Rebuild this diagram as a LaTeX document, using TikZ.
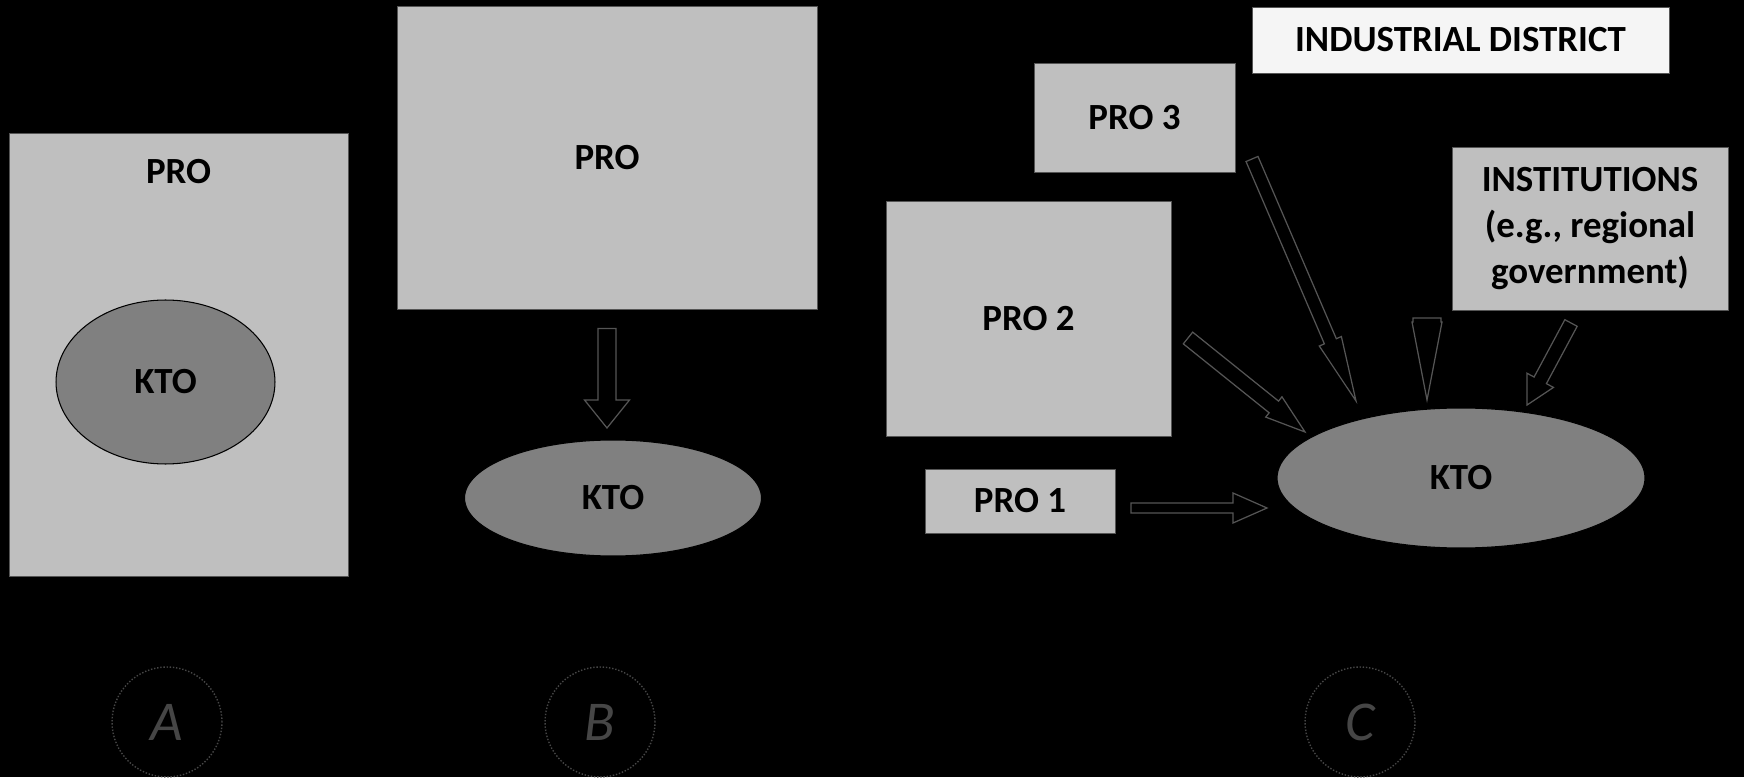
\documentclass[tikz,border=0pt]{standalone}
\usepackage{fontspec}
\setmainfont{Carlito}
\usepackage{tikz}
\usetikzlibrary{shapes.geometric, calc}
\definecolor{boxgrey}{RGB}{191,191,191}
\definecolor{ktogrey}{RGB}{128,128,128}
\definecolor{paper}{RGB}{245,245,245}
\definecolor{edgegrey}{RGB}{85,85,85}
\definecolor{faintgrey}{RGB}{70,70,70}
% hollow block arrow: tail, tip, half shaft, half head, head length (in px)
\newcommand{\hollowarr}[5]{%
  \coordinate (ht) at ($(#2)!#5*0.02cm!(#1)$);
  \draw[harr] ($(#1)!#3*0.02cm!90:(#2)$) -- ($(ht)!#3*0.02cm!90:(#2)$)
    -- ($(ht)!#4*0.02cm!90:(#2)$) -- (#2) -- ($(ht)!#4*0.02cm!-90:(#2)$)
    -- ($(ht)!#3*0.02cm!-90:(#2)$) -- ($(#1)!#3*0.02cm!-90:(#2)$) -- cycle;
}

\begin{document}
\begin{tikzpicture}[
    x=0.02cm, y=-0.02cm,
    probox/.style={rectangle, draw=edgegrey, line width=0.5pt, fill=boxgrey,
                   inner sep=0pt, align=center, font=\bfseries\fontsize{21}{26}\selectfont},
    lbl/.style={inner sep=0pt, font=\bfseries\fontsize{21}{26}\selectfont},
    kto/.style={ellipse, draw=black, line width=0.6pt, fill=ktogrey,
                inner sep=0pt, font=\bfseries\fontsize{21}{26}\selectfont},
    harr/.style={draw=edgegrey, line width=0.7pt, line join=miter},
    tag/.style={circle, draw=faintgrey, densely dotted, line width=0.8pt,
                minimum size=2.2cm, inner sep=0pt, text=faintgrey,
                font=\itshape\fontsize{32}{32}\selectfont},
]
    \fill[black] (0,0) rectangle (1744,777);

    % A: KTO inside PRO
    \node[probox, minimum width=6.78cm, minimum height=8.86cm] (proA) at (178.5,354.5) {};
    \node[lbl] (proAlbl) at ($(proA.north)+(0,39)$) {PRO};
    \node[kto, minimum width=4.38cm, minimum height=3.28cm] (ktoA) at (165.5,382) {KTO};

    % B: PRO spins off KTO
    \node[probox, minimum width=8.4cm, minimum height=6.06cm] (proB) at (607,157.5) {PRO};
    \node[kto, minimum width=5.94cm, minimum height=2.32cm] (ktoB) at (613,498) {KTO};
    \coordinate (bTail) at ($(proB.south)+(0,19)$);
    \coordinate (bTip) at (607,428);
    \hollowarr{bTail}{bTip}{9}{22.5}{28}

    % C: industrial district
    \node[probox, fill=paper, minimum width=8.34cm, minimum height=1.32cm] (district) at (1460.5,40) {INDUSTRIAL DISTRICT};
    \node[probox, minimum width=4.02cm, minimum height=2.18cm] (pro3) at (1134.5,117.5) {PRO 3};
    \node[probox, minimum width=5.7cm, minimum height=4.7cm] (pro2) at (1028.5,318.5) {PRO 2};
    \node[probox, minimum width=3.8cm, minimum height=1.28cm] (pro1) at (1020,501) {PRO 1};
    \node[probox, minimum width=5.52cm, minimum height=3.26cm] (inst) at (1590,228.5)
        {INSTITUTIONS\\(e.g., regional\\government)};
    \node[kto, minimum width=7.36cm, minimum height=2.8cm] (ktoC) at (1461,478) {KTO};

    \coordinate (t1) at (1131,508); \coordinate (h1) at (1267,508);
    \coordinate (t2) at (1188,338); \coordinate (h2) at (1305,432);
    \coordinate (t3) at (1252,159); \coordinate (h3) at (1356,401);
    \coordinate (t4) at (1427,318); \coordinate (h4) at (1427,400);
    \coordinate (t5) at (1571,323); \coordinate (h5) at (1527,405);
    \hollowarr{t1}{h1}{5}{15}{34}
    \hollowarr{t2}{h2}{7.5}{13}{40}
    \hollowarr{t3}{h3}{6.5}{12}{65}
    \hollowarr{t4}{h4}{14}{15}{78}
    \hollowarr{t5}{h5}{7}{15}{28}

    % panel tags
    \node[tag] (tagA) at (167,722) {A};
    \node[tag] (tagB) at (600,722) {B};
    \node[tag] (tagC) at (1360,722) {C};
\end{tikzpicture}
\end{document}
